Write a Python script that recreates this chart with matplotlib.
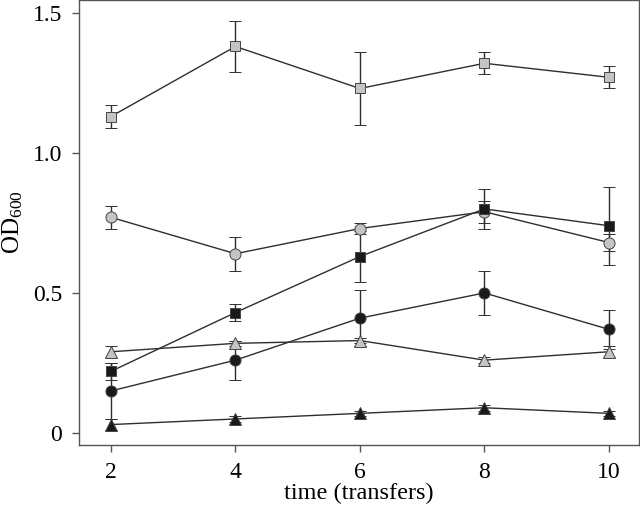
import matplotlib
matplotlib.use("Agg")
import matplotlib.pyplot as plt

plt.rcParams['font.family'] = ['Liberation Serif', 'DejaVu Serif']
plt.rcParams['mathtext.fontset'] = 'custom'
plt.rcParams['mathtext.rm'] = 'Liberation Serif'
plt.rcParams['mathtext.it'] = 'Liberation Serif:italic'

time = [2, 4, 6, 8, 10]
x_ticks = [2, 4, 6, 8, 10]
y_ticks = [0, 0.5, 1.0, 1.5]
y_tick_labels = ['0', '0.5', '1.0', '1.5']

grey_square = [1.13, 1.38, 1.23, 1.32, 1.27]
grey_square_err = [0.04, 0.09, 0.13, 0.04, 0.04]
grey_circle = [0.77, 0.64, 0.73, 0.79, 0.68]
grey_circle_err = [0.04, 0.06, 0.02, 0.04, 0.03]
black_square = [0.22, 0.43, 0.63, 0.80, 0.74]
black_square_err = [0.03, 0.03, 0.09, 0.07, 0.14]
black_circle = [0.15, 0.26, 0.41, 0.50, 0.37]
black_circle_err = [0.10, 0.07, 0.10, 0.08, 0.07]
grey_triangle = [0.29, 0.32, 0.33, 0.26, 0.29]
grey_triangle_err = [0.02, 0.01, 0.01, 0.01, 0.02]
black_triangle = [0.03, 0.05, 0.07, 0.09, 0.07]
black_triangle_err = [0.02, 0.01, 0.01, 0.01, 0.01]

fig = plt.figure(figsize=(6.4, 5.08), dpi=100)
ax = fig.add_axes([0.1234, 0.124, 0.8746, 0.876])

line_c = '#2e2e2e'
grey = '#c4c4c4'
black = '#1a1a1a'

series = [
    (grey_square, grey_square_err, 's', grey, 7),
    (grey_circle, grey_circle_err, 'o', grey, 8),
    (black_square, black_square_err, 's', black, 7),
    (black_circle, black_circle_err, 'o', black, 8),
    (grey_triangle, grey_triangle_err, '^', grey, 9),
    (black_triangle, black_triangle_err, '^', black, 9),
]
for vals, errs, mk, fc, ms in series:
    ax.errorbar(time, vals, yerr=errs, fmt='-', marker=mk, color=line_c,
                mfc=fc, mec='#444444', mew=0.7, ms=ms, lw=1.0,
                elinewidth=1.0, capsize=4.5, capthick=1.0)

ax.set_xlim(1.486, 10.48)
ax.set_ylim(-0.043, 1.546)
ax.set_xticks(x_ticks)
ax.set_yticks(y_ticks)
ax.set_yticklabels(y_tick_labels)
ax.tick_params(direction='out', length=5, width=1, color='#555555',
               labelsize=17, pad=7)
for s in ax.spines.values():
    s.set_color('#555555')
    s.set_linewidth(1.0)
ax.set_xlabel('time (transfers)', fontsize=17.5, labelpad=0)
ax.set_ylabel(r'OD$_{600}$', fontsize=18, labelpad=6)

fig.savefig('out.png', dpi=100)
